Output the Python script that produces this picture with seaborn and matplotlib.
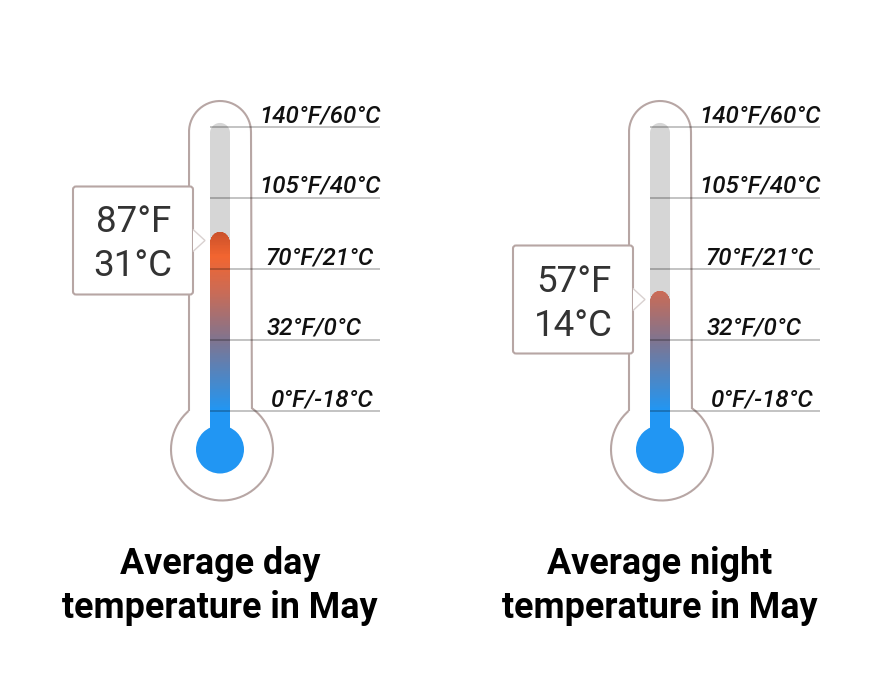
"""
Two thermometers: average day and night temperature in May.
"""

import matplotlib
matplotlib.use('Agg')
import matplotlib.pyplot as plt
import numpy as np
import pandas as pd
import seaborn as sns
from matplotlib.colors import LinearSegmentedColormap
from matplotlib.patches import Circle, PathPatch, Polygon, FancyBboxPatch, Rectangle
from matplotlib.path import Path

# Data
titles = ['Average day\ntemperature in May', 'Average night\ntemperature in May']
values_f = [87, 57]
value_labels = ['87°F\n31°C', '57°F\n14°C']
tick_f = [0, 32, 70, 105, 140]
tick_labels = ['0°F/-18°C', '32°F/0°C', '70°F/21°C', '105°F/40°C', '140°F/60°C']

# Thermometer scale is not linear in °F, knots are read off the picture
scale_f = [0, 32, 57, 70, 87, 105, 140]
scale_px = [411, 340, 291, 269, 232, 198, 127]

# Layout in pixels
centers = [220, 660]
label_dx = [102.5, 94.5, 99.5, 99.5, 99.5]
track_top_f = 142

OUTLINE = '#b7a6a4'
BLUE = '#2196f3'
GRAD_COLORS = ['#cb512a', '#f26530', '#cb6b55', '#80748f', BLUE]
GRAD_F = [87, 76, 57, 32, 0]


def f_to_px(f):
    f = np.asarray(f, dtype=float)
    px = np.interp(f, scale_f, scale_px)
    low = (scale_px[1] - scale_px[0]) / (scale_f[1] - scale_f[0])
    high = (scale_px[-1] - scale_px[-2]) / (scale_f[-1] - scale_f[-2])
    px = np.where(f < scale_f[0], scale_px[0] + (f - scale_f[0]) * low, px)
    px = np.where(f > scale_f[-1], scale_px[-1] + (f - scale_f[-1]) * high, px)
    return px


def px_to_f(px):
    px = np.asarray(px, dtype=float)
    f = np.interp(-px, -np.array(scale_px), scale_f)
    low = (scale_f[1] - scale_f[0]) / (scale_px[1] - scale_px[0])
    high = (scale_f[-1] - scale_f[-2]) / (scale_px[-1] - scale_px[-2])
    f = np.where(px > scale_px[0], scale_f[0] + (px - scale_px[0]) * low, f)
    f = np.where(px < scale_px[-1], scale_f[-1] + (px - scale_px[-1]) * high, f)
    return f


def capped_column(left, right, top, bottom):
    """Column with a round top, in pixel coordinates."""
    r = (right - left) / 2
    angles = np.linspace(np.pi, 0, 40)
    xs = left + r + r * np.cos(angles)
    ys = top + r - r * np.sin(angles)
    verts = [(left, bottom)] + list(zip(xs, ys)) + [(right, bottom), (left, bottom)]
    return Path(verts)


def tube_outline(cx):
    """Outline of the glass: straight tube on top of the bulb."""
    a = np.linspace(np.pi, 0, 60)
    top = [(cx + 31 * np.cos(t), 132 - 31 * np.sin(t)) for t in a]
    bcx, bcy, r = cx + 2, 449.5, 51
    start = np.arctan2(bcy - 409.5, cx + 31 - bcx)
    end = np.arctan2(bcy - 411, cx - 31 - bcx)
    b = np.linspace(start, end - 2 * np.pi, 120)
    bulb = [(bcx + r * np.cos(t), bcy - r * np.sin(t)) for t in b]
    return Path([(cx - 31, 411)] + top + bulb + [(cx - 31, 411)])


sns.set_theme(style='white')
plt.rcParams['font.family'] = ['Roboto', 'DejaVu Sans']

fig = plt.figure(figsize=(8.8, 6.8), dpi=100, facecolor='white')

# Hidden pixel axes, only used as a coordinate system for the glass and text
px = fig.add_axes([0, 0, 1, 1])
px.set_xlim(0, 880)
px.set_ylim(680, 0)
px.set_axis_off()

ax = fig.add_axes([0, 0, 1, 1])

track = pd.DataFrame({'x': centers, 'f': [track_top_f] * 2})
fill = pd.DataFrame({'x': centers, 'f': values_f})
sns.barplot(data=track, x='x', y='f', native_scale=True, width=20 / 440,
            color='#d6d6d6', saturation=1, errorbar=None, ax=ax, zorder=2)
n_track = len(ax.patches)
sns.barplot(data=fill, x='x', y='f', native_scale=True, width=20 / 440,
            color=BLUE, saturation=1, errorbar=None, ax=ax, zorder=3)

ax.set_yscale('function', functions=(lambda f: -f_to_px(f), lambda p: px_to_f(-p)))
ax.set_xlim(0, 880)
ax.set_ylim(float(px_to_f(680)), float(px_to_f(0)))
ax.set_axis_off()

# Gradient of the mercury, same stops for both thermometers
stop_px = f_to_px(GRAD_F)
stop_pos = (stop_px - stop_px[0]) / (stop_px[-1] - stop_px[0])
cmap = LinearSegmentedColormap.from_list('mercury', list(zip(stop_pos, GRAD_COLORS)))
rows_px = np.linspace(stop_px[0], stop_px[-1], 200)

bars = list(ax.patches)

# The bars give the size of the columns, the round tops are drawn over them
for bar in bars[:n_track]:
    left, width = bar.get_x(), bar.get_width()
    column = capped_column(left, left + width, f_to_px(bar.get_height()), 412)
    ax.add_patch(PathPatch(column, transform=px.transData, facecolor=bar.get_facecolor(),
                           edgecolor='none', zorder=2))
    bar.set_visible(False)

for bar, cx in zip(bars[n_track:], centers):
    left, width = bar.get_x(), bar.get_width()
    clip = capped_column(left, left + width, f_to_px(bar.get_height()), 412)
    edges_f = px_to_f(rows_px)
    mesh = ax.pcolormesh([left, left + width], edges_f,
                         np.linspace(0, 1, len(rows_px) - 1)[:, None],
                         cmap=cmap, vmin=0, vmax=1, zorder=3.5,
                         antialiased=False, linewidth=0)
    mesh.set_clip_path(clip, px.transData)
    bar.set_visible(False)
    ax.add_patch(Rectangle((left, 410), width, 40, transform=px.transData,
                           facecolor=BLUE, edgecolor='none', zorder=3.5))
    ax.add_patch(Circle((cx, 449.5), 24, transform=px.transData,
                        facecolor=BLUE, edgecolor='none', zorder=3.5))

for cx, title, value, label in zip(centers, titles, values_f, value_labels):
    # glass
    ax.add_patch(PathPatch(tube_outline(cx), transform=px.transData, facecolor='none',
                           edgecolor=OUTLINE, linewidth=1.5, zorder=1))

    # scale lines and labels
    ax.hlines(tick_f, cx - 10, cx + 160, colors='black', alpha=0.28,
              linewidth=1.2, zorder=4)
    for f, text, dx in zip(tick_f, tick_labels, label_dx):
        ax.text(cx + dx, f_to_px(f) - 11.5, text, transform=px.transData, ha='center',
                va='center', fontsize=17.4, style='italic', weight=500, color='#101010')

    # callout box with pointer
    mid = f_to_px(value) + 8.5
    box_left, box_right = cx - 147, cx - 27
    ax.add_patch(FancyBboxPatch((box_left, mid - 54), box_right - box_left, 108,
                                boxstyle='round,pad=0,rounding_size=3',
                                transform=px.transData, facecolor='white',
                                edgecolor=OUTLINE, linewidth=1.5, zorder=5))
    ax.add_patch(Polygon([(box_right, mid - 11), (cx - 15, mid), (box_right, mid + 11)],
                         closed=False, transform=px.transData, facecolor='white',
                         edgecolor='#d9d1d0', linewidth=1, zorder=6))
    line_f, line_c = label.split('\n')
    ax.text(cx - 86, mid - 18, line_f, transform=px.transData, ha='center', va='center',
            fontsize=26.5, weight=400, color='#333333', zorder=7)
    ax.text(cx - 87, mid + 26, line_c, transform=px.transData, ha='center', va='center',
            fontsize=26.5, weight=400, color='#333333', zorder=7)

    # title
    line1, line2 = title.split('\n')
    ax.text(cx, 564, line1, transform=px.transData, ha='center', va='center',
            fontsize=25.8, weight='bold', color='black')
    ax.text(cx, 608, line2, transform=px.transData, ha='center', va='center',
            fontsize=25.8, weight='bold', color='black')

fig.savefig('out.png', dpi=100, facecolor='white')
plt.close(fig)
